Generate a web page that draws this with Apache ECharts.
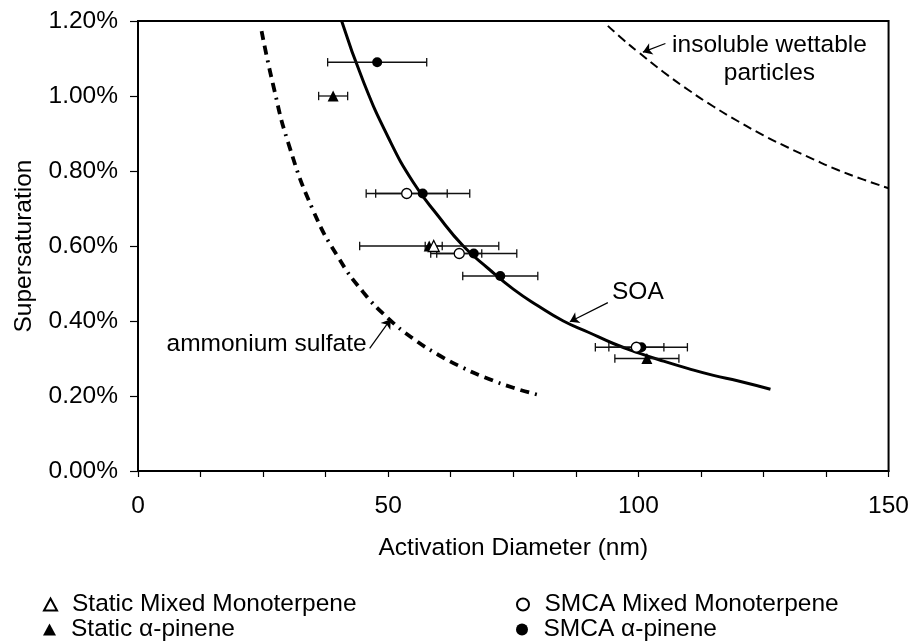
<!DOCTYPE html>
<html>
<head>
<meta charset="utf-8">
<script src="https://cdn.jsdelivr.net/npm/echarts@6/dist/echarts.min.js"></script>
<style>html,body{margin:0;padding:0;background:#fff}#c{width:912px;height:644px}</style>
</head>
<body>
<div id="c"></div>
<script>
// ---- data ----
// points: [diameter nm, supersaturation %, horizontal error nm]
var staticMixed = [[59.1, 0.60, 1.7]];
var staticAlpha = [[39.0, 1.00, 2.9], [58.2, 0.60, 13.9], [101.7, 0.30, 6.4]];
var smcaMixed = [[53.7, 0.74, 8.1], [64.2, 0.58, 4.5], [99.6, 0.33, 5.5]];
var smcaAlpha = [[47.8, 1.09, 9.9], [56.9, 0.74, 9.4], [67.1, 0.58, 8.6], [72.4, 0.52, 7.5], [100.6, 0.33, 9.2]];

// curves
var soaD = [40.7, 45, 50, 55, 60, 65, 70, 75, 80, 85, 90, 95, 100, 105, 110, 115, 120, 126.4];
var soaS = [1.20, 1.04, 0.89, 0.77, 0.68, 0.60, 0.54, 0.485, 0.44, 0.40, 0.37, 0.34, 0.315, 0.293, 0.273, 0.255, 0.24, 0.218];
var asD = [24.7, 27, 30, 35, 40, 45, 50, 55, 60, 65, 70, 75, 80];
var asS = [1.173, 1.03, 0.876, 0.695, 0.57, 0.477, 0.407, 0.353, 0.31, 0.275, 0.246, 0.222, 0.203];
var iwD = [93.9, 97, 100, 105, 110, 115, 120, 125, 130, 135, 140, 145, 150];
var iwS = [1.187, 1.15, 1.117, 1.064, 1.016, 0.972, 0.932, 0.895, 0.862, 0.831, 0.802, 0.777, 0.754];

// tick labels
var xLabels = [0, 50, 100, 150];
var yLabels = ['0.00%', '0.20%', '0.40%', '0.60%', '0.80%', '1.00%', '1.20%'];

// annotations: [text, labelX, labelY, arrowFromX, arrowFromY, arrowToX, arrowToY]
var notes = [
  ['insoluble wettable\nparticles', 126.2, 1.097, 105.4, 1.140, 100.9, 1.117],
  ['SOA', 99.9, 0.476, 93.9, 0.449, 86.3, 0.398],
  ['ammonium sulfate', 25.7, 0.338, 46.3, 0.327, 50.5, 0.405]
];

var FONT = "'Liberation Sans', Arial, Helvetica, sans-serif";
var FS = 24.5;
function zip(a, b) { return a.map(function (v, i) { return [v, b[i]]; }); }

function errSeries(data) {
  return {
    type: 'custom', data: data, z: 3, silent: true,
    renderItem: function (params, api) {
      var x = api.value(0), y = api.value(1), e = api.value(2);
      var p1 = api.coord([x - e, y]), p2 = api.coord([x + e, y]);
      var st = { stroke: '#111', lineWidth: 1.3 };
      return { type: 'group', children: [
        { type: 'line', shape: { x1: p1[0], y1: p1[1], x2: p2[0], y2: p2[1] }, style: st },
        { type: 'line', shape: { x1: p1[0], y1: p1[1] - 4.2, x2: p1[0], y2: p1[1] + 4.2 }, style: st },
        { type: 'line', shape: { x1: p2[0], y1: p2[1] - 4.2, x2: p2[0], y2: p2[1] + 4.2 }, style: st }
      ]};
    }
  };
}
function pts(name, data, symbol, filled, size, z) {
  return {
    name: name, type: 'scatter', symbol: symbol, symbolSize: size, z: z,
    data: data.map(function (d) { return [d[0], d[1]]; }),
    itemStyle: { color: filled ? '#000' : '#fff', borderColor: '#000', borderWidth: filled ? 0 : 1.3, opacity: 1 }
  };
}
function legendItem(name, icon, left, top) {
  return {
    left: left, top: top, orient: 'horizontal', itemWidth: 13, itemHeight: 12,
    textStyle: { fontSize: FS, fontFamily: FONT, color: '#000', padding: [0, 0, 0, 10] },
    data: [{ name: name, icon: icon }]
  };
}

var noteMarkLines = notes.map(function (n) {
  return [{ coord: [n[3], n[4]] }, { coord: [n[5], n[6]] }];
});
var noteMarkPoints = notes.map(function (n) {
  return { coord: [n[1], n[2]], value: n[0] };
});

var chart = echarts.init(document.getElementById('c'));
chart.setOption({
  animation: false,
  backgroundColor: '#fff',
  textStyle: { fontFamily: FONT, color: '#000' },
  grid: { left: 138, right: 23, top: 21, bottom: 173, show: true, borderColor: '#000', borderWidth: 2 },
  xAxis: {
    type: 'value', min: 0, max: 150, interval: 12.5,
    name: 'Activation Diameter (nm)', nameLocation: 'middle', nameGap: 65,
    nameTextStyle: { fontSize: FS, fontFamily: FONT, color: '#000' },
    axisLine: { lineStyle: { color: '#000', width: 2 } },
    axisTick: { length: 6, inside: false, lineStyle: { color: '#000', width: 1.2 } },
    axisLabel: { fontSize: FS, fontFamily: FONT, color: '#000', margin: 23,
      formatter: function (v) { return xLabels.indexOf(v) >= 0 ? String(v) : ''; } },
    splitLine: { show: false }
  },
  yAxis: {
    type: 'value', min: 0, max: 1.2, interval: 0.2,
    name: 'Supersaturation', nameLocation: 'middle', nameGap: 101,
    nameTextStyle: { fontSize: FS, fontFamily: FONT, color: '#000' },
    axisLine: { lineStyle: { color: '#000', width: 2 } },
    axisTick: { length: 8, inside: false, lineStyle: { color: '#000', width: 1.2 } },
    axisLabel: { fontSize: FS, fontFamily: FONT, color: '#000', margin: 20,
      formatter: function (v) { return yLabels[Math.round(v / 0.2)]; } },
    splitLine: { show: false }
  },
  legend: [
    legendItem('Static Mixed Monoterpene', 'triangle', 38, 587),
    legendItem('Static α-pinene', 'triangle', 38, 612),
    legendItem('SMCA Mixed Monoterpene', 'circle', 511, 587),
    legendItem('SMCA α-pinene', 'circle', 511, 612)
  ],
  series: [
    { type: 'line', name: 'SOA curve', data: zip(soaD, soaS), smooth: true, symbol: 'none', z: 2,
      lineStyle: { color: '#000', width: 3 }, silent: true,
      markLine: { silent: true, symbol: ['none', 'arrow'], symbolSize: 9, label: { show: false },
        lineStyle: { color: '#000', width: 1.2, type: 'solid' }, data: noteMarkLines },
      markPoint: { symbol: 'circle', symbolSize: 0, silent: true,
        label: { show: true, position: 'inside', fontSize: FS, fontFamily: FONT, color: '#000', lineHeight: 28,
          formatter: function (p) { return p.value; } },
        data: noteMarkPoints }
    },
    { type: 'line', name: 'ammonium sulfate curve', data: zip(asD, asS), smooth: true, symbol: 'none', z: 2, silent: true,
      lineStyle: { color: '#000', width: 3.8, type: [9, 6, 9, 6, 2, 6] } },
    { type: 'line', name: 'insoluble curve', data: zip(iwD, iwS), smooth: true, symbol: 'none', z: 2, silent: true,
      lineStyle: { color: '#000', width: 2, type: [9, 5] } },
    errSeries(staticAlpha),
    errSeries(smcaAlpha),
    errSeries(staticMixed),
    errSeries(smcaMixed),
    pts('Static α-pinene', staticAlpha, 'triangle', true, 11, 5),
    pts('SMCA α-pinene', smcaAlpha, 'circle', true, 10, 5),
    pts('Static Mixed Monoterpene', staticMixed, 'triangle', false, 11, 6),
    pts('SMCA Mixed Monoterpene', smcaMixed, 'circle', false, 10, 6)
  ]
});
</script>
</body>
</html>
